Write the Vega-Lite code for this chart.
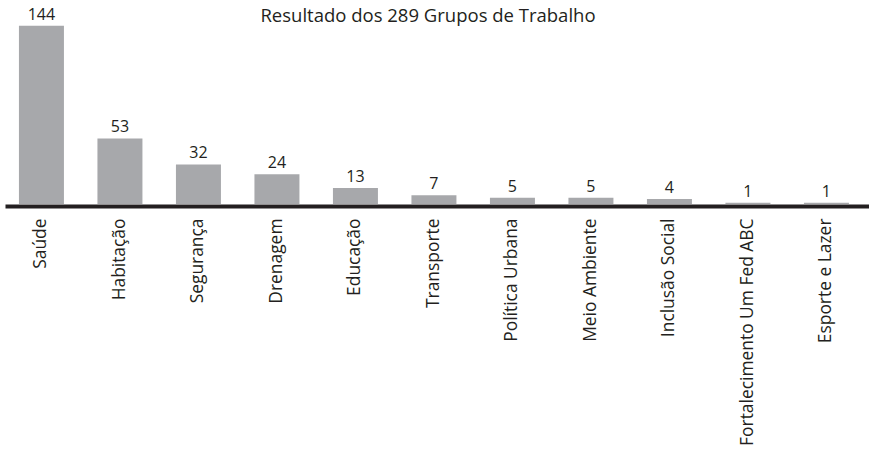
{
  "$schema": "https://vega.github.io/schema/vega-lite/v6.json",
  "autosize": {"type": "none"},
  "width": 864,
  "height": 198,
  "padding": {"left": 5, "top": 6, "right": 0, "bottom": 246},
  "background": "white",
  "config": {"view": {"stroke": null}, "font": "Open Sans"},
  "title": {
    "text": "Resultado dos 289 Grupos de Trabalho",
    "anchor": "middle",
    "orient": "top",
    "baseline": "top",
    "offset": -19,
    "dx": -9,
    "fontSize": 18.5,
    "fontWeight": "normal",
    "color": "#231f20",
    "font": "Open Sans"
  },
  "data": {
    "values": [
      {"grupo": "Saúde", "n": 144},
      {"grupo": "Habitação", "n": 53},
      {"grupo": "Segurança", "n": 32},
      {"grupo": "Drenagem", "n": 24},
      {"grupo": "Educação", "n": 13},
      {"grupo": "Transporte", "n": 7},
      {"grupo": "Política Urbana", "n": 5},
      {"grupo": "Meio Ambiente", "n": 5},
      {"grupo": "Inclusão Social", "n": 4},
      {"grupo": "Fortalecimento Um Fed ABC", "n": 1},
      {"grupo": "Esporte e Lazer", "n": 1}
    ]
  },
  "encoding": {
    "x": {
      "field": "grupo",
      "type": "nominal",
      "sort": null,
      "scale": {"paddingInner": 0.4268, "paddingOuter": 0.2166, "align": 0.41},
      "axis": {
        "title": null,
        "labelAngle": -90,
        "ticks": false,
        "tickSize": 0,
        "labelPadding": 12,
        "domainColor": "#231f20",
        "domainWidth": 4,
        "offset": 2,
        "labelFontSize": 17.4,
        "labelColor": "#231f20",
        "labelFont": "Open Sans",
        "labelLimit": 300
      }
    },
    "y": {
      "field": "n",
      "type": "quantitative",
      "scale": {"domain": [0, 160], "nice": false},
      "axis": null
    }
  },
  "layer": [
    {"mark": {"type": "bar", "color": "#a7a8ab"}},
    {
      "mark": {"type": "text", "baseline": "bottom", "dy": -3, "fontSize": 16, "color": "#231f20", "font": "Open Sans"},
      "encoding": {"text": {"field": "n", "type": "quantitative"}}
    }
  ]
}
